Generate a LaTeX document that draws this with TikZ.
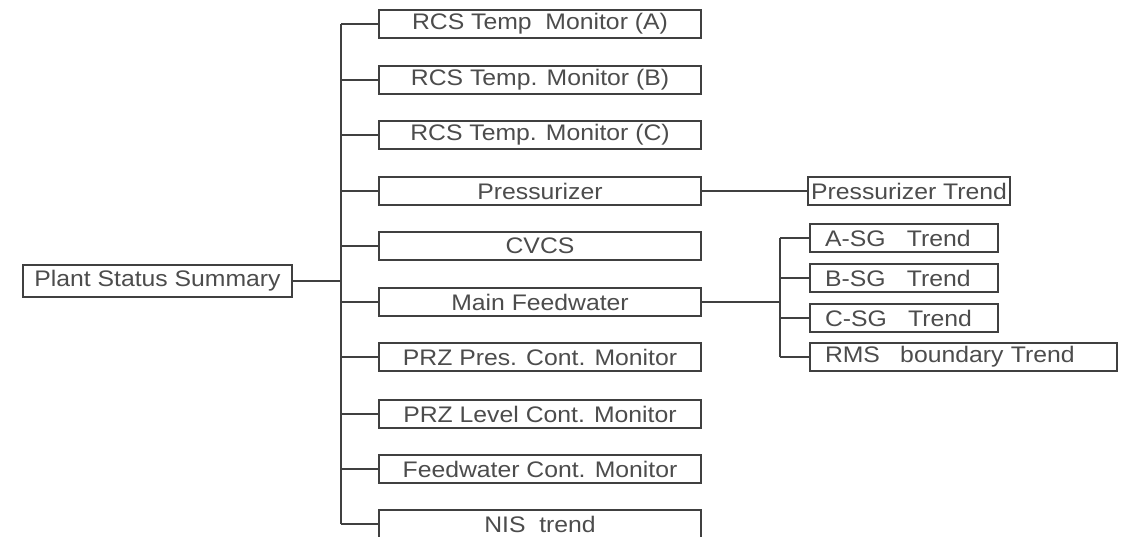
\documentclass[tikz,border=0pt]{standalone}
\usepackage{fontspec}
\setmainfont{Liberation Sans}[FakeStretch=1.1]
\begin{document}
\begin{tikzpicture}[x=1pt,y=-1pt,
  line width=1.3pt,
  every node/.style={font=\fontsize{22.5}{25}\selectfont, text=black!70, inner sep=0pt},
  box/.style={draw=black!75, line width=1.2pt, minimum height=28pt, minimum width=322pt},
  sgbox/.style={draw=black!75, line width=1.2pt, minimum height=28pt, text width=#1, align=left, inner xsep=15pt},
  link/.style={draw=black!75, line width=1.3pt}
]
\clip (0,0) rectangle (1122,537);
\fill[white] (0,0) rectangle (1122,537);

\node[box, minimum width=269pt, minimum height=32pt] (psum) at (157.5,281) {Plant Status Summary};

\node[box] (a) at (540,24) {RCS Temp\ \ Monitor (A)};
\node[box] (b) at (540,80) {RCS Temp. Monitor (B)};
\node[box] (c) at (540,135) {RCS Temp. Monitor (C)};
\node[box] (prz) at (540,191) {Pressurizer};
\node[box] (cvcs) at (540,246) {CVCS};
\node[box] (mfw) at (540,302) {Main Feedwater};
\node[box] (pres) at (540,357) {PRZ Pres. Cont. Monitor};
\node[box] (lvl) at (540,414) {PRZ Level Cont. Monitor};
\node[box] (fwc) at (540,469) {Feedwater Cont. Monitor};
\node[box] (nis) at (540,524) {NIS\ \ trend};

\node[box, minimum width=202pt] (przt) at (909,191) {Pressurizer Trend};

\node[sgbox=158pt] (asg) at (904,238) {A-SG\hspace{0.95em}Trend};
\node[sgbox=158pt] (bsg) at (904,278) {B-SG\hspace{0.95em}Trend};
\node[sgbox=158pt] (csg) at (904,318) {C-SG\hspace{0.95em}Trend};
\node[sgbox=277pt] (rms) at (963.5,357) {RMS\hspace{0.9em}boundary Trend};

\coordinate (trunk) at (341,281);
\coordinate (ttop) at (341,24);
\coordinate (tbot) at (341,524);
\coordinate (sgj) at (780,302);
\coordinate (sgtop) at (780,238);
\coordinate (sgbot) at (780,357);

\draw[link] (psum.east) -- (trunk);
\draw[link] (ttop) -- (tbot);
\foreach \n in {a,b,c,prz,cvcs,mfw,pres,lvl,fwc,nis}
  \draw[link] (ttop |- \n.west) -- (\n.west);

\draw[link] (prz.east) -- (przt.west);

\draw[link] (mfw.east) -- (sgj);
\draw[link] (sgtop) -- (sgbot);
\foreach \n in {asg,bsg,csg,rms}
  \draw[link] (sgtop |- \n.west) -- (\n.west);
\end{tikzpicture}
\end{document}
